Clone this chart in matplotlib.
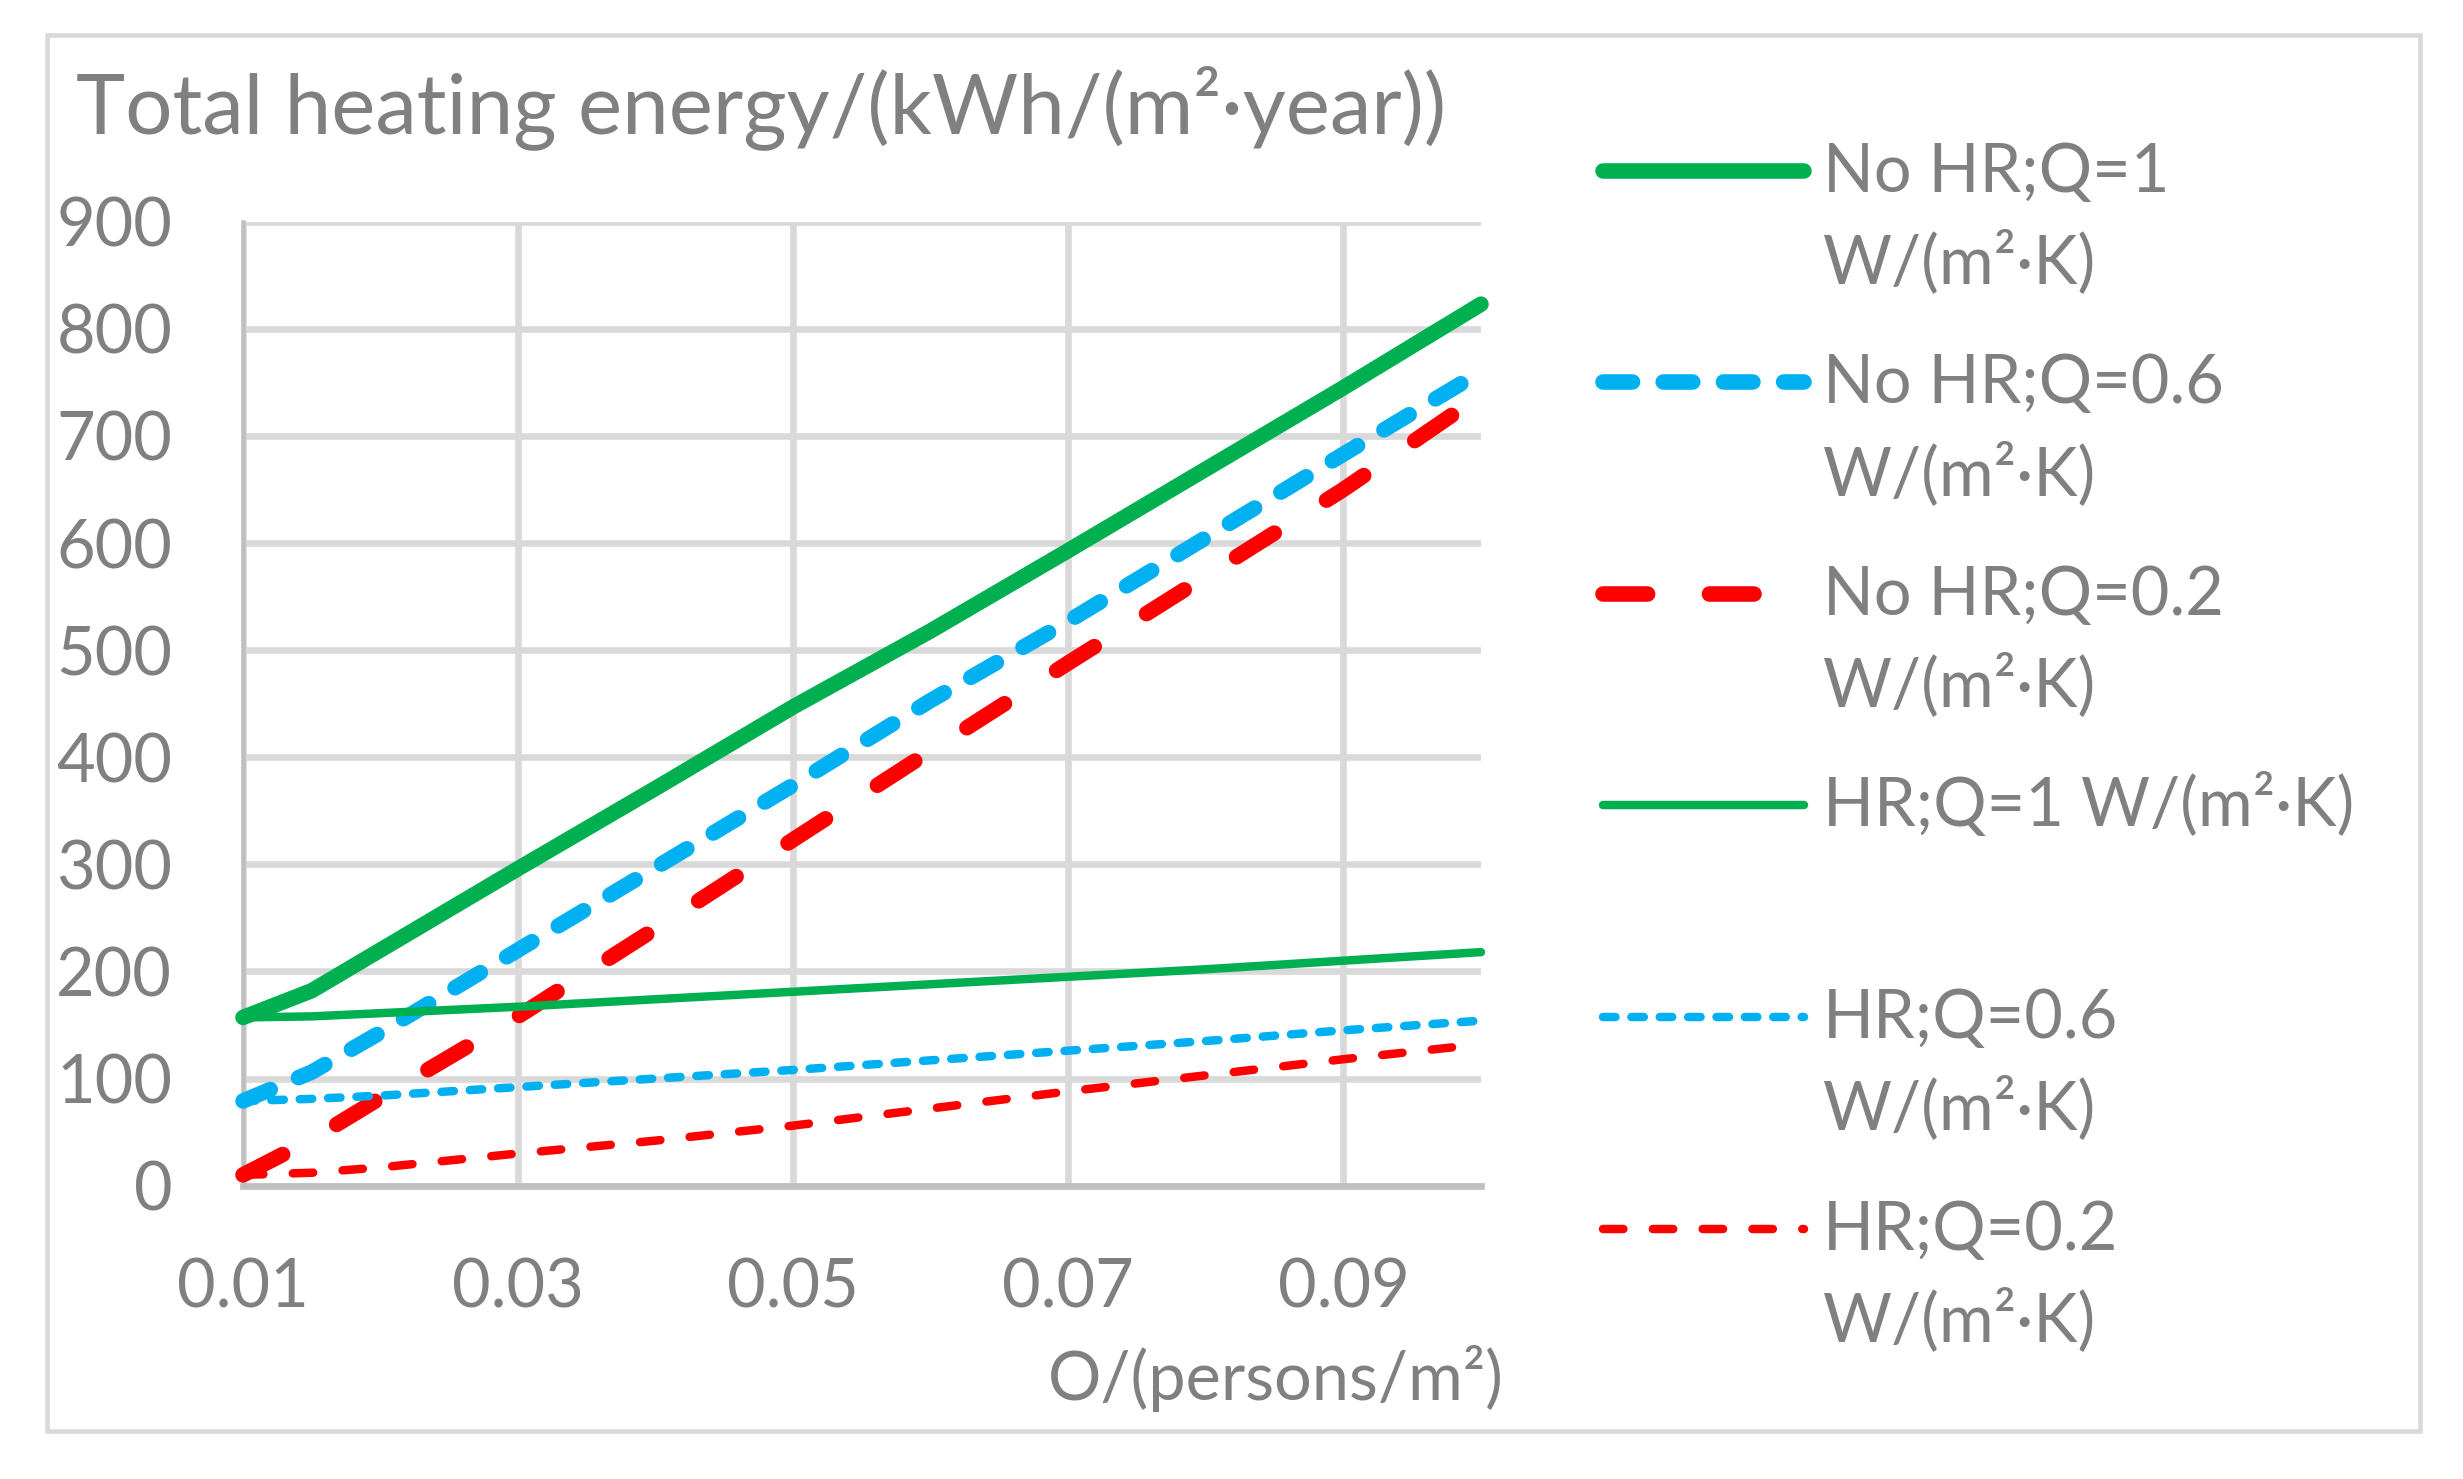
import matplotlib
matplotlib.use("Agg")
import matplotlib.pyplot as plt
from matplotlib.lines import Line2D
from matplotlib.patches import Rectangle

plt.rcParams['font.family'] = ['Lato', 'DejaVu Sans']

# data
occupancy = [0.01, 0.015, 0.02, 0.03, 0.04, 0.05, 0.06, 0.07, 0.08, 0.09, 0.1]
no_hr_q1 = [157, 182, 220, 296, 371, 447, 518, 593, 669, 745, 823]
no_hr_q06 = [79, 106, 143, 220, 297, 374, 453, 527, 605, 683, 760]
no_hr_q02 = [10, 43, 82, 158, 240, 323, 406, 488, 569, 650, 738]
hr_q1 = [157, 158, 161, 167, 174, 181, 188, 195, 202, 210, 218]
hr_q06 = [79, 81, 84, 92, 100, 108, 117, 126, 135, 145, 154]
hr_q02 = [10, 12, 17, 30, 42, 56, 72, 88, 103, 118, 132]

labels = ["No HR;Q=1\nW/(m²·K)", "No HR;Q=0.6\nW/(m²·K)", "No HR;Q=0.2\nW/(m²·K)",
          "HR;Q=1 W/(m²·K)", "HR;Q=0.6\nW/(m²·K)", "HR;Q=0.2\nW/(m²·K)"]
x_ticks = [0.01, 0.03, 0.05, 0.07, 0.09]
y_ticks = [0, 100, 200, 300, 400, 500, 600, 700, 800, 900]

title = "Total heating energy/(kWh/(m²·year))"
x_label = "O/(persons/m²)"

GREEN = "#00B050"
BLUE = "#00B0F0"
RED = "#FF0000"
GRAY_TXT = "#808080"
GRID = "#D9D9D9"

W, H = 2463, 1479
fig = plt.figure(figsize=(W / 100, H / 100), dpi=100)
ax = fig.add_axes([243 / W, 1 - 1185.6 / H, (1481 - 243) / W, (1185.6 - 221.7) / H])

series = [no_hr_q1, no_hr_q06, no_hr_q02, hr_q1, hr_q06, hr_q02]
styles = [
    dict(color=GREEN, lw=11.2, ls='-'),
    dict(color=BLUE, lw=11.2, ls=(0, (1.9, 1.97))),
    dict(color=RED, lw=11.2, ls=(0, (2.87, 3.97))),
    dict(color=GREEN, lw=6.1, ls='-'),
    dict(color=BLUE, lw=6.1, ls=(0, (1.47, 1.88))),
    dict(color=RED, lw=6.1, ls=(0, (2.41, 3.47))),
]

for vals, st in zip(series, styles):
    ax.plot(occupancy, vals, color=st['color'], lw=st['lw'], linestyle=st['ls'],
            solid_capstyle='round', dash_capstyle='round',
            solid_joinstyle='round', dash_joinstyle='round',
            clip_on=False, zorder=3)

ax.set_xlim(0.01, 0.1)
ax.set_ylim(0, 900)
ax.set_xticks(x_ticks)
ax.set_xticklabels([f"{v:.2f}" for v in x_ticks])
ax.set_yticks(y_ticks)
ax.grid(True, color=GRID, lw=4.8)
ax.set_axisbelow(True)
for s in ['top', 'right']:
    ax.spines[s].set_visible(False)
ax.spines['bottom'].set_color('#BFBFBF')
ax.spines['bottom'].set_linewidth(4.8)
ax.spines['left'].set_color('#BFBFBF')
ax.spines['left'].set_linewidth(3.3)
ax.tick_params(length=0, labelsize=48, labelcolor=GRAY_TXT)
ax.tick_params(axis='y', pad=51)
ax.tick_params(axis='x', pad=52)

fig.text(76 / W, 1 - 133 / H, title, fontsize=60, color=GRAY_TXT, va='baseline')
fig.text(1504 / W, 1 - 1400 / H, x_label, fontsize=48, color=GRAY_TXT,
         ha='right', va='baseline')

# legend drawn by hand so the key lines up with the first text row
for i, (st, lab) in enumerate(zip(styles, labels)):
    yk = 1 - (170.5 + i * 211.6) / H
    key = Line2D([1603 / W, 1804 / W], [yk, yk], transform=fig.transFigure,
                 color=st['color'], lw=st['lw'], linestyle=st['ls'],
                 solid_capstyle='round', dash_capstyle='round')
    fig.add_artist(key)
    for j, part in enumerate(lab.split("\n")):
        fig.text(1823 / W, 1 - (191.5 + i * 211.6 + j * 91.5) / H, part,
                 fontsize=48, color=GRAY_TXT, va='baseline')

fig.add_artist(Rectangle((47 / W, 1 - 1431 / H), (2420 - 47) / W, (1431 - 35) / H,
                         transform=fig.transFigure, fill=False, edgecolor=GRID, lw=3.3))

fig.savefig("out.png", dpi=100, facecolor='white')
